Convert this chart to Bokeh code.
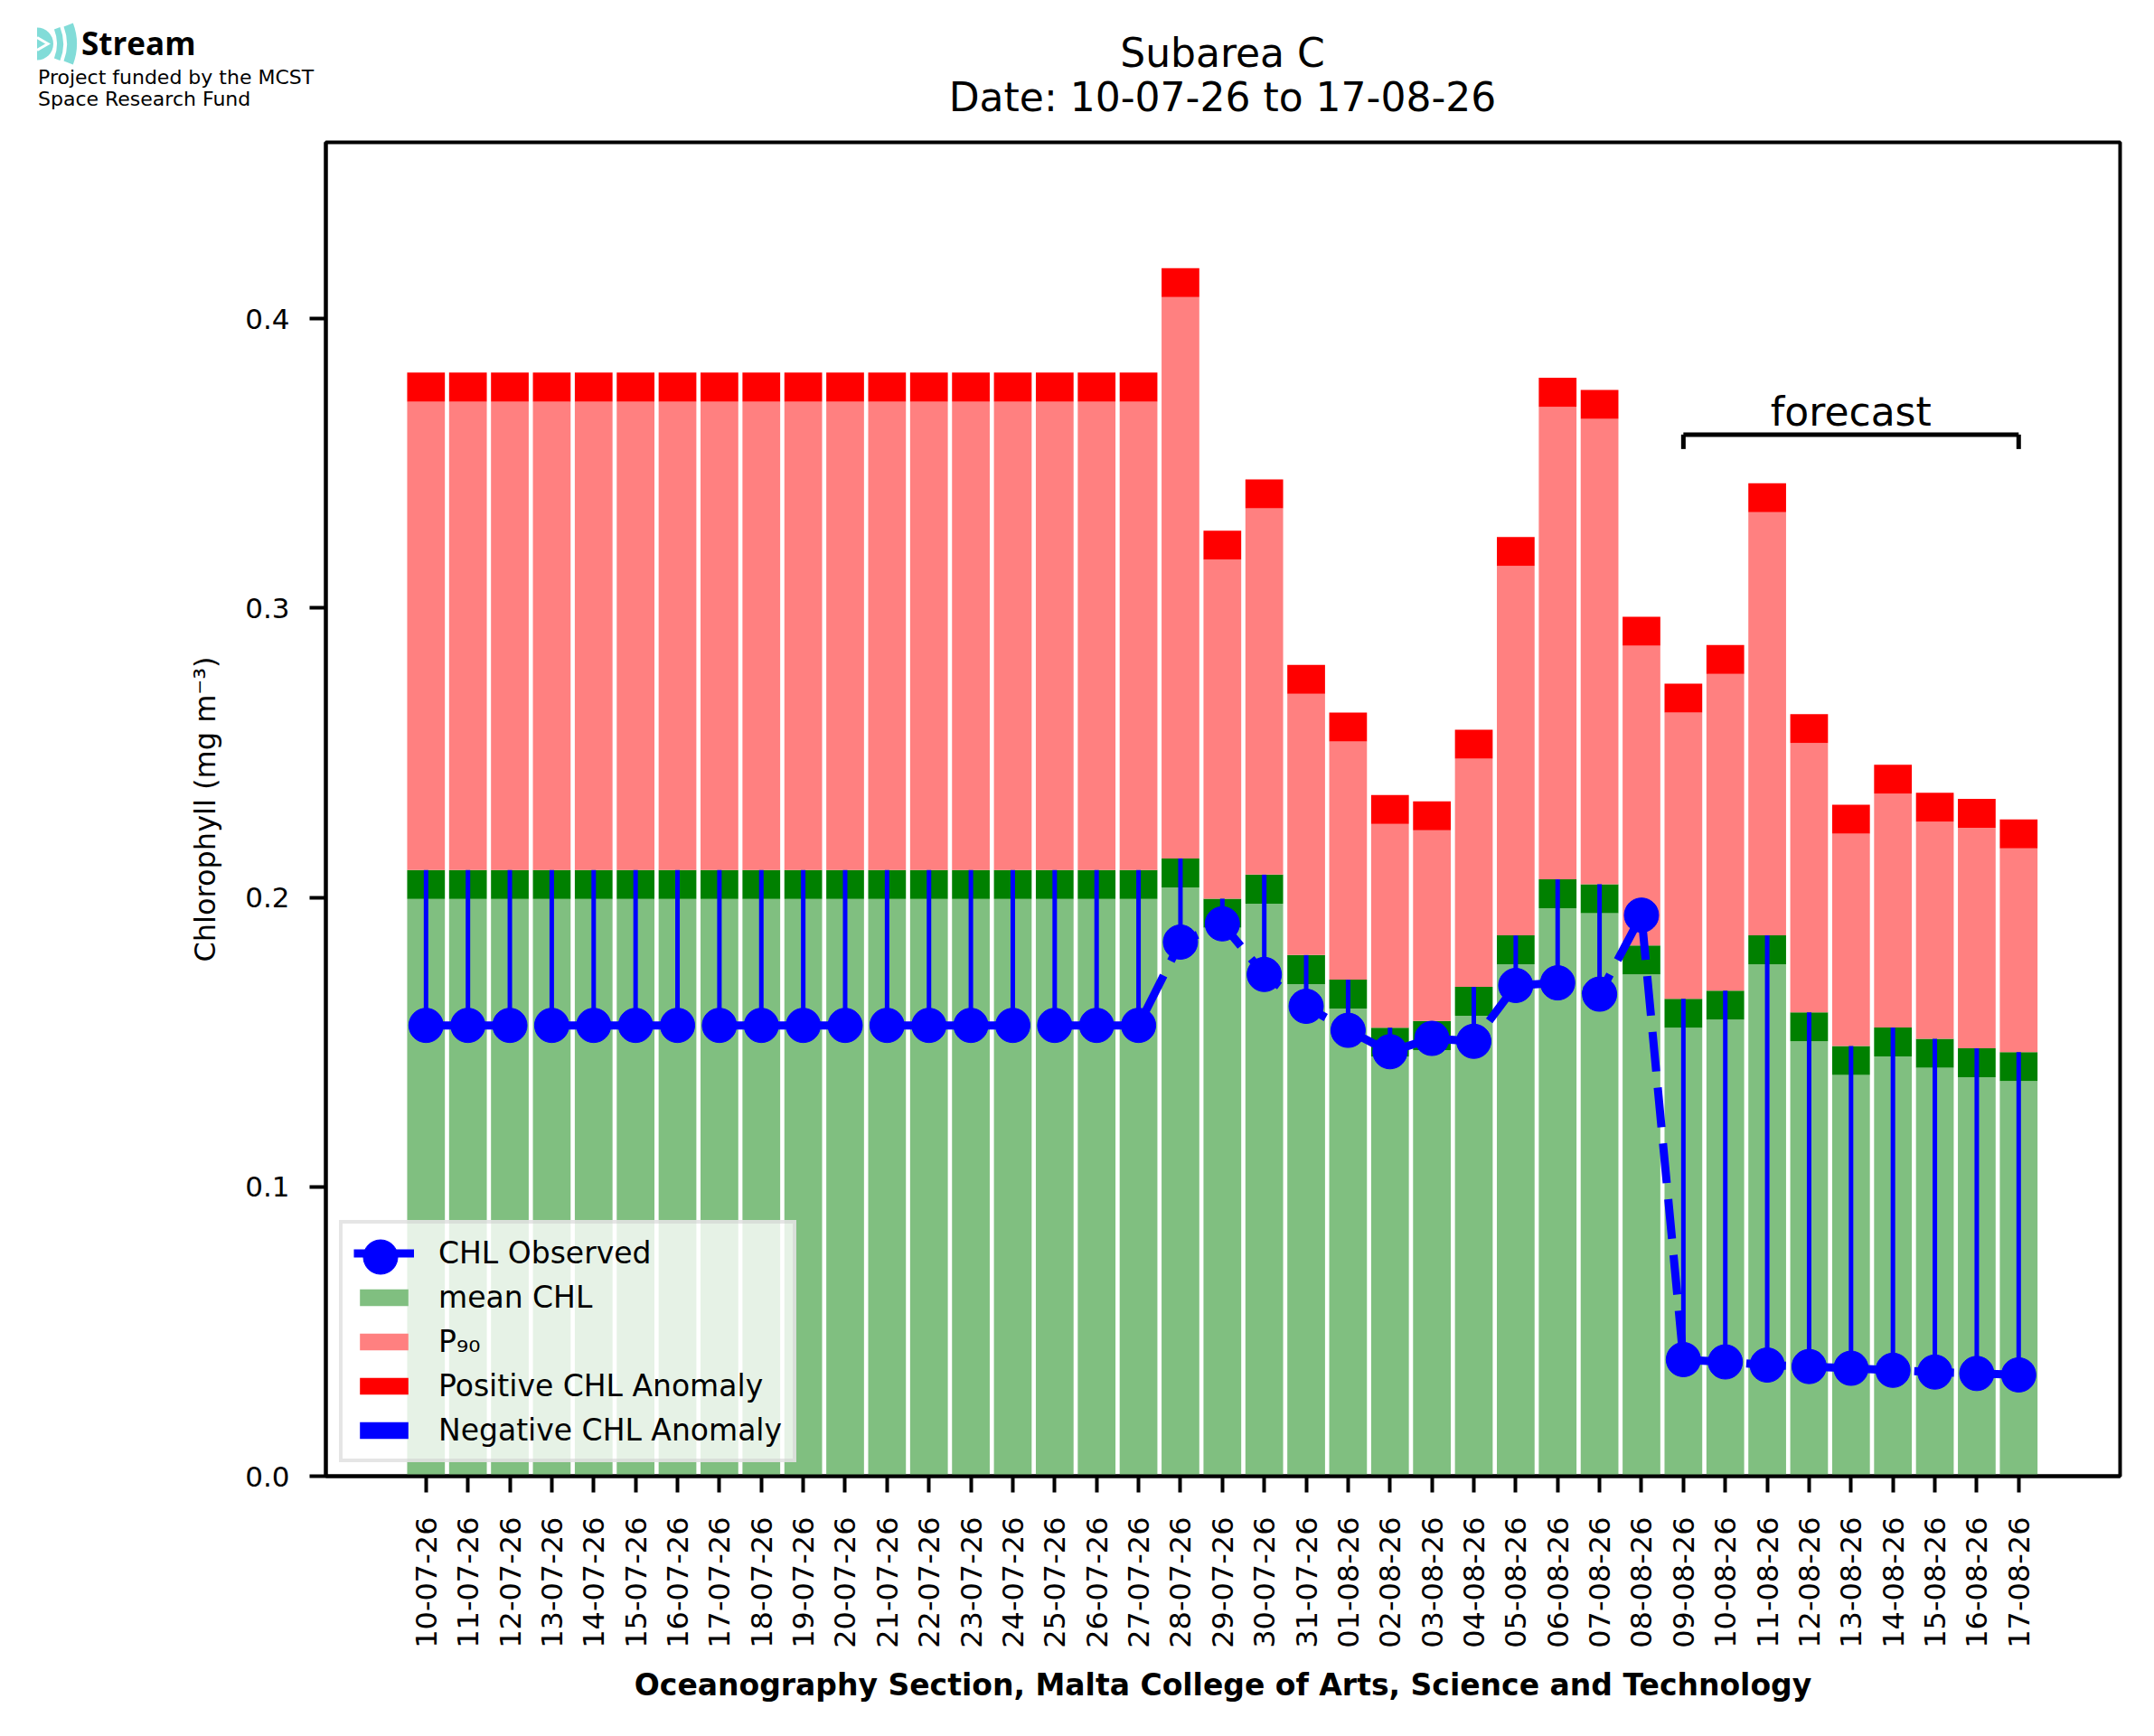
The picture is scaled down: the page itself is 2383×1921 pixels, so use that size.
from math import pi, cos, sin
from bokeh.plotting import figure
from bokeh.layouts import column
from bokeh.models import (Range1d, FixedTicker, Legend, LegendItem, Div,
                          ColumnDataSource, PrintfTickFormatter)
from bokeh.embed import file_html
from bokeh.resources import INLINE

# ---------------- data ----------------
dates = ["10-07-26", "11-07-26", "12-07-26", "13-07-26", "14-07-26", "15-07-26",
         "16-07-26", "17-07-26", "18-07-26", "19-07-26", "20-07-26", "21-07-26",
         "22-07-26", "23-07-26", "24-07-26", "25-07-26", "26-07-26", "27-07-26",
         "28-07-26", "29-07-26", "30-07-26", "31-07-26", "01-08-26", "02-08-26",
         "03-08-26", "04-08-26", "05-08-26", "06-08-26", "07-08-26", "08-08-26",
         "09-08-26", "10-08-26", "11-08-26", "12-08-26", "13-08-26", "14-08-26",
         "15-08-26", "16-08-26", "17-08-26"]

mean_chl = [0.1995] * 18 + [0.2035, 0.1896, 0.1979, 0.1701, 0.1616, 0.1450,
                            0.1473, 0.1591, 0.1769, 0.1963, 0.1946, 0.1734,
                            0.1550, 0.1578, 0.1769, 0.1503, 0.1387, 0.1451,
                            0.1412, 0.1379, 0.1366]

p90_chl = [0.3714] * 18 + [0.4075, 0.3168, 0.3345, 0.2704, 0.2539, 0.2254,
                           0.2232, 0.2480, 0.3146, 0.3696, 0.3654, 0.2870,
                           0.2639, 0.2773, 0.3332, 0.2534, 0.2221, 0.2359,
                           0.2262, 0.2241, 0.2170]

obs_chl = [0.1558] * 18 + [0.1846, 0.1909, 0.1734, 0.1624, 0.1541, 0.1467,
                           0.1513, 0.1503, 0.1696, 0.1705, 0.1666, 0.1939,
                           0.0403, 0.0395, 0.0384, 0.0379, 0.0373, 0.0366,
                           0.0360, 0.0355, 0.0350]

forecast_first = "09-08-26"
y_ticks = [0.0, 0.1, 0.2, 0.3, 0.4]
title_lines = ["Subarea C", "Date: 10-07-26 to 17-08-26"]
logo_name = "Stream"
logo_lines = ["Project funded by the MCST", "Space Research Fund"]

# ---------------- styles / layout ----------------
FONT = "DejaVu Sans"
BAND = 0.01
LIGHT_GREEN = "#80bf80"
LIGHT_RED = "#ff8080"
LOGO_CYAN = "#82dcd8"
X0, X1, Y0, Y1 = -2.39, 40.42, 0.0, 0.461

FRAME_W, FRAME_H = 1985, 1476
HDR_H = 140
BL, BR, BT, BB = 360, 22, 157 - HDR_H, 272
TOTAL_W = BL + FRAME_W + BR

xs = list(range(len(dates)))
band_top_mean = [m + BAND for m in mean_chl]
band_top_p90 = [v + BAND for v in p90_chl]

src = ColumnDataSource(dict(x=xs, mean=mean_chl, mtop=band_top_mean,
                            p90=p90_chl, ptop=band_top_p90, obs=obs_chl))

neg_idx = [i for i in xs if obs_chl[i] < band_top_mean[i]]
neg_src = ColumnDataSource(dict(x=[xs[i] for i in neg_idx],
                                y0=[obs_chl[i] for i in neg_idx],
                                y1=[band_top_mean[i] for i in neg_idx]))

# ---------------- header (logo + title) as inline SVG ----------------
def arc_band(cx, cy, r_in, r_out, a):
    def pt(r, ang):
        return f"{cx + r * cos(ang):.2f},{cy - r * sin(ang):.2f}"
    return (f'<path d="M{pt(r_out, -a)} A{r_out},{r_out} 0 0 0 {pt(r_out, a)} '
            f'L{pt(r_in, a)} A{r_in},{r_in} 0 0 1 {pt(r_in, -a)} Z" fill="{LOGO_CYAN}"/>')

def svg_text(x, y, text, size, family=FONT, weight="normal", anchor="start"):
    return (f'<text x="{x}" y="{y}" text-anchor="{anchor}" '
            f'style="font-family:\'{family}\';font-size:{size}px;font-weight:{weight};'
            f'fill:black">{text}</text>')

cx_title = BL + FRAME_W / 2
svg = [f'<svg xmlns="http://www.w3.org/2000/svg" width="{TOTAL_W}" height="{HDR_H}" '
       f'style="display:block">']
# icon
svg.append(f'<path d="M41,30.5 A18,18 0 0 1 41,66.5 Z" fill="{LOGO_CYAN}"/>')
svg.append('<polyline points="41,41.5 53,48.5 41,55.5" fill="none" stroke="white" '
           'stroke-width="3"/>')
svg.append(arc_band(20, 48.5, 43, 50, 0.38))
svg.append(arc_band(20, 48.5, 54, 65, 0.36))
# texts
svg.append(svg_text(90, 61, logo_name, 35, family="Open Sans", weight="bold"))
svg.append(svg_text(42, 93, logo_lines[0], 22))
svg.append(svg_text(42, 117, logo_lines[1], 22))
svg.append(svg_text(cx_title, 74, title_lines[0], 44, anchor="middle"))
svg.append(svg_text(cx_title, 123, title_lines[1], 44, anchor="middle"))
svg.append('</svg>')
header = Div(text="".join(svg), width=TOTAL_W, height=HDR_H, margin=0)

# ---------------- main plot ----------------
p = figure(width=TOTAL_W, height=BT + FRAME_H + BB,
           frame_width=FRAME_W, frame_height=FRAME_H,
           min_border_left=BL, min_border_right=BR,
           min_border_top=BT, min_border_bottom=BB,
           x_range=Range1d(X0, X1), y_range=Range1d(Y0, Y1),
           output_backend="svg", toolbar_location=None,
           background_fill_color="white", border_fill_color="white")

r_mean = p.vbar(x="x", top="mean", bottom=0, width=0.9, source=src,
                fill_color=LIGHT_GREEN, line_color=None)
p.vbar(x="x", top="mtop", bottom="mean", width=0.9, source=src,
       fill_color="#008000", line_color=None)
r_p90 = p.vbar(x="x", top="p90", bottom="mtop", width=0.9, source=src,
               fill_color=LIGHT_RED, line_color=None)
r_pos = p.vbar(x="x", top="ptop", bottom="p90", width=0.9, source=src,
               fill_color="#ff0000", line_color=None)

p.segment(x0="x", y0="y0", x1="x", y1="y1", source=neg_src,
          line_color="#0000ff", line_width=5)

p.line(x="x", y="obs", source=src, line_color="#0000ff", line_width=9,
       line_dash="44 18")
p.scatter(x="x", y="obs", source=src, size=38, marker="circle",
          fill_color="#0000ff", line_color="#0000ff")

# legend-only renderers (one point, outside the visible range)
off = ColumnDataSource(dict(x=[X0 - 10], y=[-1.0]))
leg_line = p.line(x="x", y="y", source=off, line_color="#0000ff", line_width=9)
leg_dot = p.scatter(x="x", y="y", source=off, size=38, marker="circle",
                    fill_color="#0000ff", line_color="#0000ff")
leg_neg = p.vbar(x="x", top="y", width=0.9, source=off,
                 fill_color="#0000ff", line_color=None)

LEG_LOC = (15, 15)
LEG_PAD, LEG_SP, LEG_GW, LEG_GH, LEG_LH = 12, 9, 67, 23, 40
legend = Legend(items=[
    LegendItem(label="CHL Observed", renderers=[leg_line]),
    LegendItem(label="mean CHL", renderers=[r_mean]),
    LegendItem(label="P₉₀", renderers=[r_p90]),
    LegendItem(label="Positive CHL Anomaly", renderers=[r_pos]),
    LegendItem(label="Negative CHL Anomaly", renderers=[leg_neg]),
], location=LEG_LOC, margin=0, padding=LEG_PAD, spacing=LEG_SP,
    glyph_width=LEG_GW, glyph_height=LEG_GH, label_height=LEG_LH,
    label_standoff=27, label_text_font=FONT, label_text_font_size="33px",
    label_text_color="black",
    background_fill_color="white", background_fill_alpha=0.8,
    border_line_color="#cccccc", border_line_width=4)
p.add_layout(legend)

# second, transparent legend that only draws the large marker of "CHL Observed"
MK_BOX = 95  # legend markers are drawn at 0.4 of the glyph box
n_items = 5
leg_h = 2 * LEG_PAD + n_items * LEG_LH + (n_items - 1) * LEG_SP
mk_cx = LEG_LOC[0] + LEG_PAD + LEG_GW / 2
mk_cy = LEG_LOC[1] + leg_h - LEG_PAD - LEG_LH / 2
legend2 = Legend(items=[LegendItem(label=" ", renderers=[leg_dot])],
                 location=(mk_cx - MK_BOX / 2, mk_cy - MK_BOX / 2), margin=0,
                 padding=0, glyph_width=MK_BOX, glyph_height=MK_BOX,
                 label_height=MK_BOX, label_standoff=0, label_text_font_size="10px",
                 background_fill_alpha=0, border_line_color=None)
p.add_layout(legend2)

# forecast bracket
f0 = dates.index(forecast_first)
f1 = len(dates) - 1
BR_Y, BR_TICK = 0.360, 0.355
p.segment(x0=[f0, f0, f1], y0=[BR_Y, BR_TICK, BR_TICK],
          x1=[f1, f0, f1], y1=[BR_Y, BR_Y, BR_Y],
          line_color="black", line_width=5)
p.text(x=[(f0 + f1) / 2], y=[0.368], text=["forecast"], text_align="center",
       text_baseline="alphabetic", text_font_size="44px",
       text_font={"value": FONT}, text_color="black")

# axes
p.xgrid.visible = False
p.ygrid.visible = False
p.xaxis.ticker = FixedTicker(ticks=xs)
p.xaxis.major_label_overrides = {i: d for i, d in zip(xs, dates)}
p.xaxis.major_label_orientation = pi / 2
p.yaxis.ticker = FixedTicker(ticks=y_ticks)
p.yaxis.formatter = PrintfTickFormatter(format="%.1f")
for ax in (p.xaxis[0], p.yaxis[0]):
    ax.major_label_text_font = FONT
    ax.major_label_text_font_size = "32px"
    ax.major_label_text_color = "black"
    ax.minor_tick_line_color = None
    ax.major_tick_in = 0
    ax.major_tick_out = 18
    ax.major_tick_line_width = 4
    ax.major_tick_line_color = "black"
    ax.axis_line_width = 4
    ax.axis_line_color = "black"
    ax.axis_label_text_font = FONT
    ax.axis_label_text_color = "black"
p.yaxis.major_label_text_font_size = "31px"
p.xaxis.major_label_standoff = 27
p.yaxis.major_label_standoff = 22
p.yaxis.axis_label = "Chlorophyll (mg m⁻³)"
p.yaxis.axis_label_text_font_size = "32px"
p.yaxis.axis_label_text_font_style = "normal"
p.yaxis.axis_label_standoff = 22
p.xaxis.axis_label = "Oceanography Section, Malta College of Arts, Science and Technology"
p.xaxis.axis_label_text_font_size = "33px"
p.xaxis.axis_label_text_font_style = "bold"
p.xaxis.axis_label_standoff = 18
p.outline_line_color = "black"
p.outline_line_width = 4
p.outline_line_alpha = 1

page = column(header, p, spacing=0)
open("out.html", "w").write(file_html(page, INLINE))
